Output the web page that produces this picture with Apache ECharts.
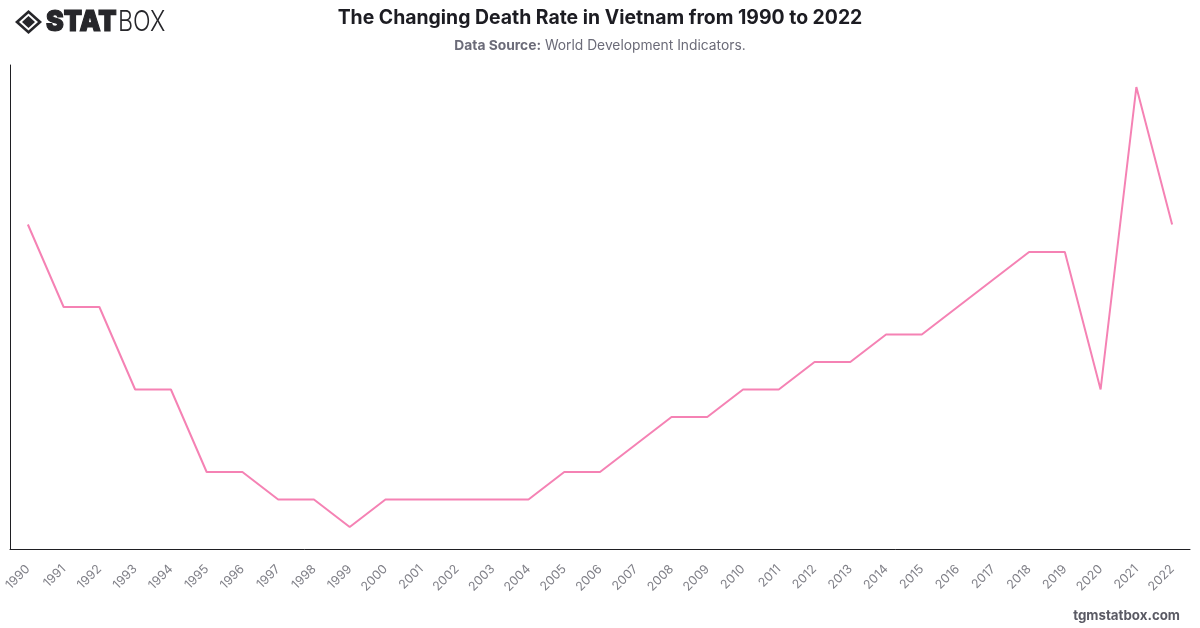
<!DOCTYPE html>
<html>
<head>
<meta charset="utf-8">
<style>html,body{margin:0;padding:0;background:#fff}#chart{width:1200px;height:628px}</style>
<script src="https://cdn.jsdelivr.net/npm/echarts@6/dist/echarts.min.js"></script>
</head>
<body>
<div id="chart"></div>
<script>
// Crude death rate by year (per 1,000 people)
const years = ['1990','1991','1992','1993','1994','1995','1996','1997','1998','1999','2000','2001','2002','2003','2004','2005','2006','2007','2008','2009','2010','2011','2012','2013','2014','2015','2016','2017','2018','2019','2020','2021','2022'];
const deathRate = [6.2,5.9,5.9,5.6,5.6,5.3,5.3,5.2,5.2,5.1,5.2,5.2,5.2,5.2,5.2,5.3,5.3,5.4,5.5,5.5,5.6,5.6,5.7,5.7,5.8,5.8,5.9,6.0,6.1,6.1,5.6,6.7,6.2];
const titleText = 'The Changing Death Rate in Vietnam from 1990 to 2022';
const sourceLabel = 'Data Source:';
const sourceText = 'World Development Indicators.';
const siteText = 'tgmstatbox.com';

const font = 'Inter, "Noto Sans", sans-serif';
const chart = echarts.init(document.getElementById('chart'), null, {renderer: 'canvas'});
chart.setOption({
  animation: false,
  backgroundColor: '#ffffff',
  title: {
    left: 'center', top: 6, padding: 0, itemGap: 9,
    text: titleText,
    textStyle: {fontFamily: font, fontSize: 19.4, fontWeight: 700, color: '#1c1c22', lineHeight: 24},
    subtext: '{b|' + sourceLabel + '} ' + sourceText,
    subtextStyle: {
      fontFamily: font, fontSize: 13.8, color: '#6b6b78',
      rich: {b: {fontFamily: font, fontSize: 13.8, fontWeight: 700, color: '#6b6b78'}}
    }
  },
  grid: {left: 10, right: 10, top: 65, bottom: 79, containLabel: false},
  xAxis: {
    type: 'category', data: years, boundaryGap: true,
    axisLine: {lineStyle: {color: '#1f1f23', width: 1}},
    axisTick: {show: false},
    axisLabel: {interval: 0, rotate: 45, margin: 18, fontFamily: font, fontSize: 12.5, color: '#808088'},
    splitLine: {show: false}
  },
  yAxis: {
    type: 'value', min: 5.02, max: 6.78,
    axisLine: {show: true, lineStyle: {color: '#1f1f23', width: 1}},
    axisTick: {show: false}, axisLabel: {show: false}, splitLine: {show: false}
  },
  series: [{
    type: 'line', data: deathRate, showSymbol: false, smooth: false,
    lineStyle: {color: '#f582b4', width: 2}, itemStyle: {color: '#f582b4'}
  }],
  graphic: [
    // brand mark: diamond outline with a solid centre
    {type: 'polygon', shape: {points: [[28.5,10],[42,22],[28.5,34],[15,22]]}, style: {fill: '#26262a'}},
    {type: 'polygon', shape: {points: [[28.5,13.5],[38,22],[28.5,30.5],[19,22]]}, style: {fill: '#ffffff'}},
    {type: 'polygon', shape: {points: [[28.5,16],[35,22],[28.5,28],[22,22]]}, style: {fill: '#26262a'}},
    {type: 'text', x: 46, y: 8, scaleX: 0.92, style: {text: 'STAT', font: '900 29px Inter, "Noto Sans", sans-serif', fill: '#26262a', stroke: '#26262a', lineWidth: 1.2}},
    {type: 'text', x: 118, y: 8, scaleX: 0.8, style: {text: 'BOX', font: '300 29px Inter, "Noto Sans", sans-serif', fill: '#26262a'}},
    {type: 'text', right: 20, top: 609, style: {text: siteText, font: '700 13.3px Inter, "Noto Sans", sans-serif', fill: '#5a5a64'}}
  ]
});
</script>
</body>
</html>
